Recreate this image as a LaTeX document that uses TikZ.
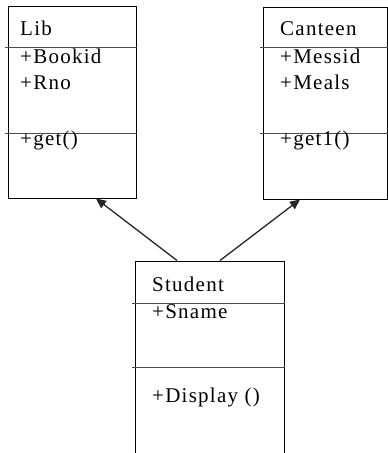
\documentclass[tikz,border=0pt]{standalone}
\usepackage{fontspec}
\setmainfont{Liberation Serif}[LetterSpace=6]
\usetikzlibrary{arrows.meta}

\tikzset{
  classbox/.style={draw, line width=1pt, inner sep=0pt},
  divider/.style={draw=black!70, line width=1.4pt},
  member/.style={anchor=base west, inner sep=0pt, font=\fontsize{21}{24}\selectfont},
  inherit/.style={draw=black!85, line width=1.3pt, -{Triangle[length=10pt,width=9pt]}}
}

\begin{document}
\begin{tikzpicture}[x=1pt,y=-1pt]
      \useasboundingbox (0,0) rectangle (388,453);
      % the three classes
      \node[classbox, minimum width=128pt, minimum height=192pt] (lib) at (72,102) {};
      \node[classbox, minimum width=124pt, minimum height=192pt] (canteen) at (325,103) {};
      \node[classbox, minimum width=149pt, minimum height=210pt] (student) at (209.5,366) {};
      % compartments
      \foreach \n/\a/\b in {lib/42/128, canteen/41/127, student/43/107} {
        \draw[divider] ([xshift=-3pt,yshift=-\a pt]\n.north west) -- ([yshift=-\a pt]\n.north east);
        \draw[divider] ([xshift=-3pt,yshift=-\b pt]\n.north west) -- ([yshift=-\b pt]\n.north east);
      }
      % names, attributes, operations
      \node[member] (libname) at (20,35) {Lib};
      \node[member] (bookid) at (20,63) {+Bookid};
      \node[member] (rno) at (20,89) {+Rno};
      \node[member] (get) at (20,145) {+get()};
      \node[member] (canteenname) at (280,35) {Canteen};
      \node[member] (messid) at (280,63) {+Messid};
      \node[member] (meals) at (280,89) {+Meals};
      \node[member] (getone) at (280,145) {+get1()};
      \node[member] (studentname) at (152,291) {Student};
      \node[member] (sname) at (152,318) {+Sname};
      \node[member] (display) at (152,402) {+Display ()};
      % generalisation
      \draw[inherit] ([xshift=-32.5pt]student.north) -- ([xshift=24pt]lib.south);
      \draw[inherit] ([xshift=10.5pt]student.north) -- ([xshift=-25pt]canteen.south);
    \end{tikzpicture}
\end{document}
